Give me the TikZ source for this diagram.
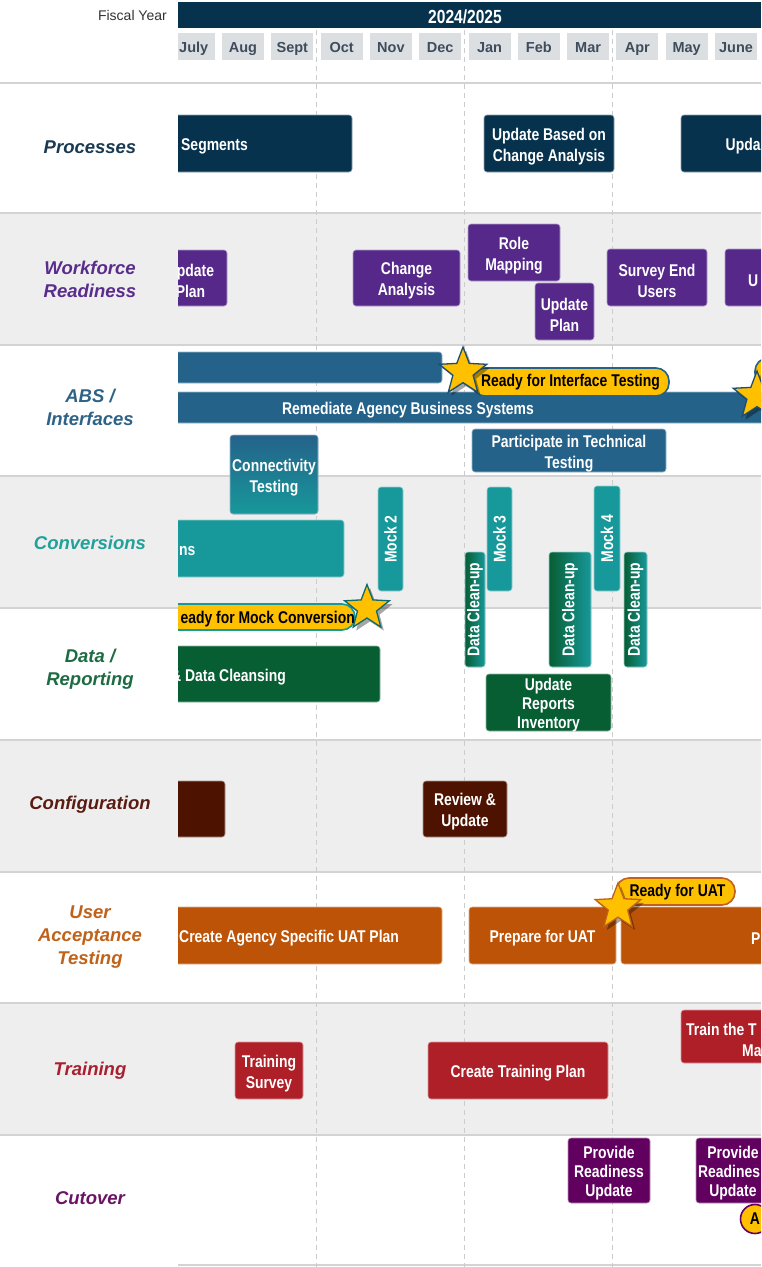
\documentclass[tikz,border=0pt]{standalone}
\usepackage{fontspec}
\setmainfont{Liberation Sans}
\newfontfamily\narrowf[FakeStretch=0.82]{Liberation Sans}
\usetikzlibrary{shapes.geometric}
\definecolor{navy}{HTML}{06324D}
\definecolor{wpurple}{HTML}{55288A}
\definecolor{absblue}{HTML}{24628A}
\definecolor{cteal}{HTML}{17989A}
\definecolor{dgreen}{HTML}{075E33}
\definecolor{cbrown}{HTML}{4E1300}
\definecolor{corange}{HTML}{BD5307}
\definecolor{cred}{HTML}{AE1F27}
\definecolor{cpurple}{HTML}{620060}
\definecolor{gold}{HTML}{FFC000}
\definecolor{gridgray}{HTML}{CCCCCC}
\definecolor{rowgray}{HTML}{EEEEEE}
\definecolor{sepgray}{HTML}{D3D3D3}
\definecolor{monthbg}{HTML}{DCDFE2}
\definecolor{monthtxt}{HTML}{3E4C5C}
\definecolor{lProc}{HTML}{1A3A52}
\definecolor{lWork}{HTML}{5A2D8C}
\definecolor{lAbs}{HTML}{2E6387}
\definecolor{lConv}{HTML}{22A09A}
\definecolor{lData}{HTML}{1D6B42}
\definecolor{lConf}{HTML}{5A1C12}
\definecolor{lUat}{HTML}{C0621A}
\definecolor{lTrain}{HTML}{A82030}
\definecolor{lCut}{HTML}{6B1466}
\newcommand\boxfont{\narrowf\bfseries\fontsize{17pt}{21pt}\selectfont}
\newcommand\boxfonttight{\narrowf\bfseries\fontsize{17pt}{19.2pt}\selectfont}
\newcommand\labfont{\bfseries\itshape\fontsize{18.5pt}{23pt}\selectfont}
% task box: [box options]{name}{colour}{cx}{cy}{width}{height}{text}
\newcommand\taskb[8][]{%
  \node[taskbox=#3, minimum width=#6pt, minimum height=#7pt, #1] (#2) at (#4,#5) {};
  \node[boxtxt] (#2t) at ([yshift=-3pt]#2.center) {#8};}
\begin{document}
\begin{tikzpicture}[x=1pt,y=-1pt,
  taskbox/.style={rounded corners=3pt, fill=#1, draw=white!55!#1, line width=0.6pt, text=white, font=\boxfont, align=center, inner sep=0pt},
  boxtxt/.style={text=white, font=\boxfont, inner sep=0pt, align=center},
  rowlab/.style={font=\labfont, text=#1, align=center},
  pill/.style={rounded corners=13pt, fill=gold, draw=#1, line width=1.6pt, inner sep=0pt, font=\boxfont, text=black},
  starnode/.style={star, star points=5, star point ratio=2.35, minimum size=50pt, inner sep=0pt, fill=gold, draw=#1, line width=1.3pt},
  starshadow/.style={star, star points=5, star point ratio=2.35, minimum size=50pt, inner sep=0pt, fill=black, opacity=0.35, draw=none},
  monthbox/.style={fill=monthbg, minimum width=42pt, minimum height=27pt, inner sep=0pt, text=monthtxt, text height=13.4pt, text depth=2pt, font=\bfseries\fontsize{14.5pt}{16pt}\selectfont},
  sepline/.style={draw=sepgray, line width=1.5pt},
  gridline/.style={draw=gridgray, line width=0.9pt, dash pattern=on 5pt off 4pt}
]
\useasboundingbox (0,0) rectangle (761,1267);
% row backgrounds
\fill[white] (0,0) rectangle (761,1267);
\fill[rowgray] (0,213) rectangle (761,345);
\fill[rowgray] (0,476) rectangle (761,608);
\fill[rowgray] (0,740) rectangle (761,872);
\fill[rowgray] (0,1003) rectangle (761,1135);
% separators
\foreach \yy in {83,213,345,476,608,740,872,1003,1135} {\draw[sepline] (0,\yy) -- (761,\yy);}
\draw[sepline] (178,1265) -- (761,1265);
% dashed month grid
\foreach \xx in {316,464,612} {\draw[gridline] (\xx,30) -- (\xx,1267);}
% header
\node[fill=navy, minimum width=583pt, minimum height=26pt, inner sep=0pt, anchor=north west] (hdr) at (178,2) {};
\node[text=white, font=\narrowf\bfseries\fontsize{19pt}{20pt}\selectfont, inner sep=0pt] (fy) at (465,17) {2024/2025};
\node[anchor=east, text=black!80, font=\fontsize{14pt}{16pt}\selectfont, inner sep=0pt] (fiscal) at (167,15.5) {Fiscal Year};
\begin{scope}
\clip (178,0) rectangle (761,1267);
\foreach \m [count=\i from 0] in {July,Aug,Sept,Oct,Nov,Dec,Jan,Feb,Mar,Apr,May,June} {
  \node[monthbox] (m\i) at ({193.7+49.3*\i},46.5) {\m};
}
% Processes
\node[taskbox=navy, minimum width=202pt, minimum height=57pt] (pseg) at (251,143.5) {};
\node[boxtxt, anchor=west] (psegt) at ([yshift=-3pt]181,143.5) {Segments};
\taskb{pupd}{navy}{549}{143.5}{130}{57}{Update Based on\\Change Analysis}
\node[taskbox=navy, minimum width=169pt, minimum height=57pt] (pupd2) at (765.5,143.5) {};
\node[boxtxt, anchor=west] (pupd2t) at ([yshift=-3pt]725.5,143.5) {Upda};
% Workforce
\node[taskbox=wpurple, minimum width=77pt, minimum height=56pt] (wup) at (188.5,278) {};
\node[boxtxt] (wupt) at ([yshift=-3pt]190.5,278) {\phantom{U}pdate\\Plan};
\taskb{wchg}{wpurple}{406.5}{278}{107}{56}{Change\\Analysis}
\taskb{wrole}{wpurple}{514}{252.5}{92}{57}{Role\\Mapping}
\taskb{wplan}{wpurple}{564.5}{311.5}{59}{57}{Update\\Plan}
\taskb{wsurv}{wpurple}{657}{277.5}{100}{57}{Survey End\\Users}
\node[taskbox=wpurple, minimum width=75pt, minimum height=57pt] (wu) at (762.5,277.5) {};
\node[boxtxt, anchor=west] (wut) at ([yshift=-3pt]748,277.5) {U};
% ABS / Interfaces
\node[taskbox=absblue, minimum width=292pt, minimum height=31pt] (atop) at (296,367.5) {};
\node[taskbox=absblue, minimum width=650pt, minimum height=31pt] (arem) at (475,407.5) {};
\node[boxtxt] (aremt) at ([yshift=-2.5pt]408,407.5) {Remediate Agency Business Systems};
\taskb{apart}{absblue}{569}{450.5}{194}{43}{Participate in Technical\\Testing}
\taskb[top color=absblue, bottom color=cteal]{aconn}{absblue}{274}{474.5}{88}{79}{Connectivity\\Testing}
\node[pill=absblue, minimum width=80pt, minimum height=28pt] (arpill) at (795,372) {};
\node[pill=absblue, minimum width=197pt, minimum height=28pt, text depth=3.5pt, text height=12.5pt] (aipill) at (570.5,382) {Ready for Interface Testing};
\node[starshadow] (ash1) at (466,375.5) {};
\node[starnode=absblue!80!black] (astar1) at (463,372) {};
\node[starshadow] (ash2) at (760,399.5) {};
\node[starnode=absblue!80!black] (astar2) at (757,396) {};
% Conversions
\node[taskbox=cteal, minimum width=194pt, minimum height=57pt] (cns) at (247,548.5) {};
\node[boxtxt, anchor=west] (cnst) at ([yshift=-2pt]179,548.5) {ns};
\node[taskbox=cteal, rotate=90, minimum width=104pt, minimum height=25pt] (mock2) at (390.5,539) {Mock 2};
\node[taskbox=cteal, rotate=90, minimum width=104pt, minimum height=25pt] (mock3) at (499.5,539) {Mock 3};
\node[taskbox=cteal, rotate=90, minimum width=105pt, minimum height=26pt] (mock4) at (607,538.5) {Mock 4};
\node[taskbox=cteal, rotate=90, left color=dgreen, right color=cteal, minimum width=115pt, minimum height=20pt, text height=12.3pt, text depth=3.6pt] (dc1) at (475,609.5) {Data Clean-up};
\node[taskbox=cteal, rotate=90, left color=dgreen, right color=cteal, minimum width=115pt, minimum height=42pt, text height=12.3pt, text depth=3.6pt] (dc2) at (570,609.5) {Data Clean-up};
\node[taskbox=cteal, rotate=90, left color=dgreen, right color=cteal, minimum width=115pt, minimum height=23pt, text height=12.3pt, text depth=3.6pt] (dc3) at (635.5,609.5) {Data Clean-up};
% Data / Reporting
\node[taskbox=dgreen, minimum width=230pt, minimum height=56pt] (dcl) at (265,674) {};
\node[boxtxt, anchor=west] (dclt) at ([yshift=-3pt]171,674) {\& Data Cleansing};
\node[taskbox=dgreen, minimum width=125pt, minimum height=57pt] (drep) at (548.5,702.5) {};
\node[boxtxt, font=\boxfonttight] (drept) at ([yshift=-2.5pt]drep.center) {Update\\Reports\\Inventory};
\node[pill=cteal, minimum width=205pt, minimum height=26pt] (mpill) at (252.5,617) {};
\node[anchor=east, inner sep=0pt, font=\boxfont, text=black] (mpillt) at ([yshift=-2.5pt]355,617) {eady for Mock Conversion};
\node[starshadow, minimum size=47pt] (msh) at (370,611.5) {};
\node[starnode=cteal!70!black, minimum size=47pt] (mstar) at (367,608) {};
% Configuration
\node[taskbox=cbrown, minimum width=75pt, minimum height=56pt] (cfg1) at (187.5,809) {};
\taskb{crev}{cbrown}{465}{809}{84}{56}{Review \&\\Update}
% User Acceptance Testing
\node[taskbox=corange, minimum width=292pt, minimum height=57pt] (ucre) at (296,935.5) {};
\node[boxtxt, anchor=west] (ucret) at ([yshift=-3pt]179,935.5) {Create Agency Specific UAT Plan};
\taskb{uprep}{corange}{542.5}{935.5}{147}{57}{Prepare for UAT}
\node[taskbox=corange, minimum width=229pt, minimum height=57pt] (up) at (735.5,935.5) {};
\node[boxtxt, anchor=west] (upt) at ([yshift=-3pt]751,935.5) {P};
\node[pill=lUat, minimum width=119pt, minimum height=27pt, text depth=3.5pt, text height=12.5pt] (upill) at (675.5,891.5) {\hspace*{4pt}Ready for UAT};
\node[starshadow, minimum size=48pt] (ush) at (621,910.5) {};
\node[starnode=lUat, minimum size=48pt] (ustar) at (618,907) {};
% Training
\taskb{tsur}{cred}{269}{1070.5}{68}{57}{Training\\Survey}
\taskb{tplan}{cred}{518}{1070.5}{180}{57}{Create Training Plan}
\node[taskbox=cred, minimum width=169pt, minimum height=53pt] (ttrain) at (765.5,1036.5) {};
\node[boxtxt, anchor=west, align=left] (ttraint) at ([yshift=-3pt]686,1036.5) {Train the T\\\hspace*{56pt}Ma};
% Cutover
\node[taskbox=cpurple, minimum width=82pt, minimum height=65pt] (cprov) at (609,1170.5) {};
\node[boxtxt, font=\boxfonttight] (cprovt) at ([yshift=-2.5pt]cprov.center) {Provide\\Readiness\\Update};
\node[taskbox=cpurple, minimum width=104pt, minimum height=65pt] (cprov2) at (748,1170.5) {};
\node[boxtxt, font=\boxfonttight] (cprov2t) at ([yshift=-2.5pt]733,1170.5) {Provide\\Readines\phantom{s}\\Update};
\node[circle, fill=gold, draw=cpurple, line width=1.6pt, minimum size=29pt, inner sep=0pt, font=\boxfont, text=black] (cA) at (755,1219) {A};
\end{scope}
% row labels
\node[rowlab=lProc] (lp) at (90,147) {Processes};
\node[rowlab=lWork] (lw) at (90,279.5) {Workforce\\Readiness};
\node[rowlab=lAbs] (la) at (90,407.5) {ABS /\\Interfaces};
\node[rowlab=lConv] (lc) at (90,543) {Conversions};
\node[rowlab=lData] (ld) at (90,669.5) {Data /\\Reporting};
\node[rowlab=lConf] (lf) at (90,805) {Configuration};
\node[rowlab=lUat] (lu) at (90,937) {User\\Acceptance\\Testing};
\node[rowlab=lTrain] (lt) at (90,1071) {Training};
\node[rowlab=lCut] (lcut) at (90,1198) {Cutover};
\end{tikzpicture}
\end{document}
